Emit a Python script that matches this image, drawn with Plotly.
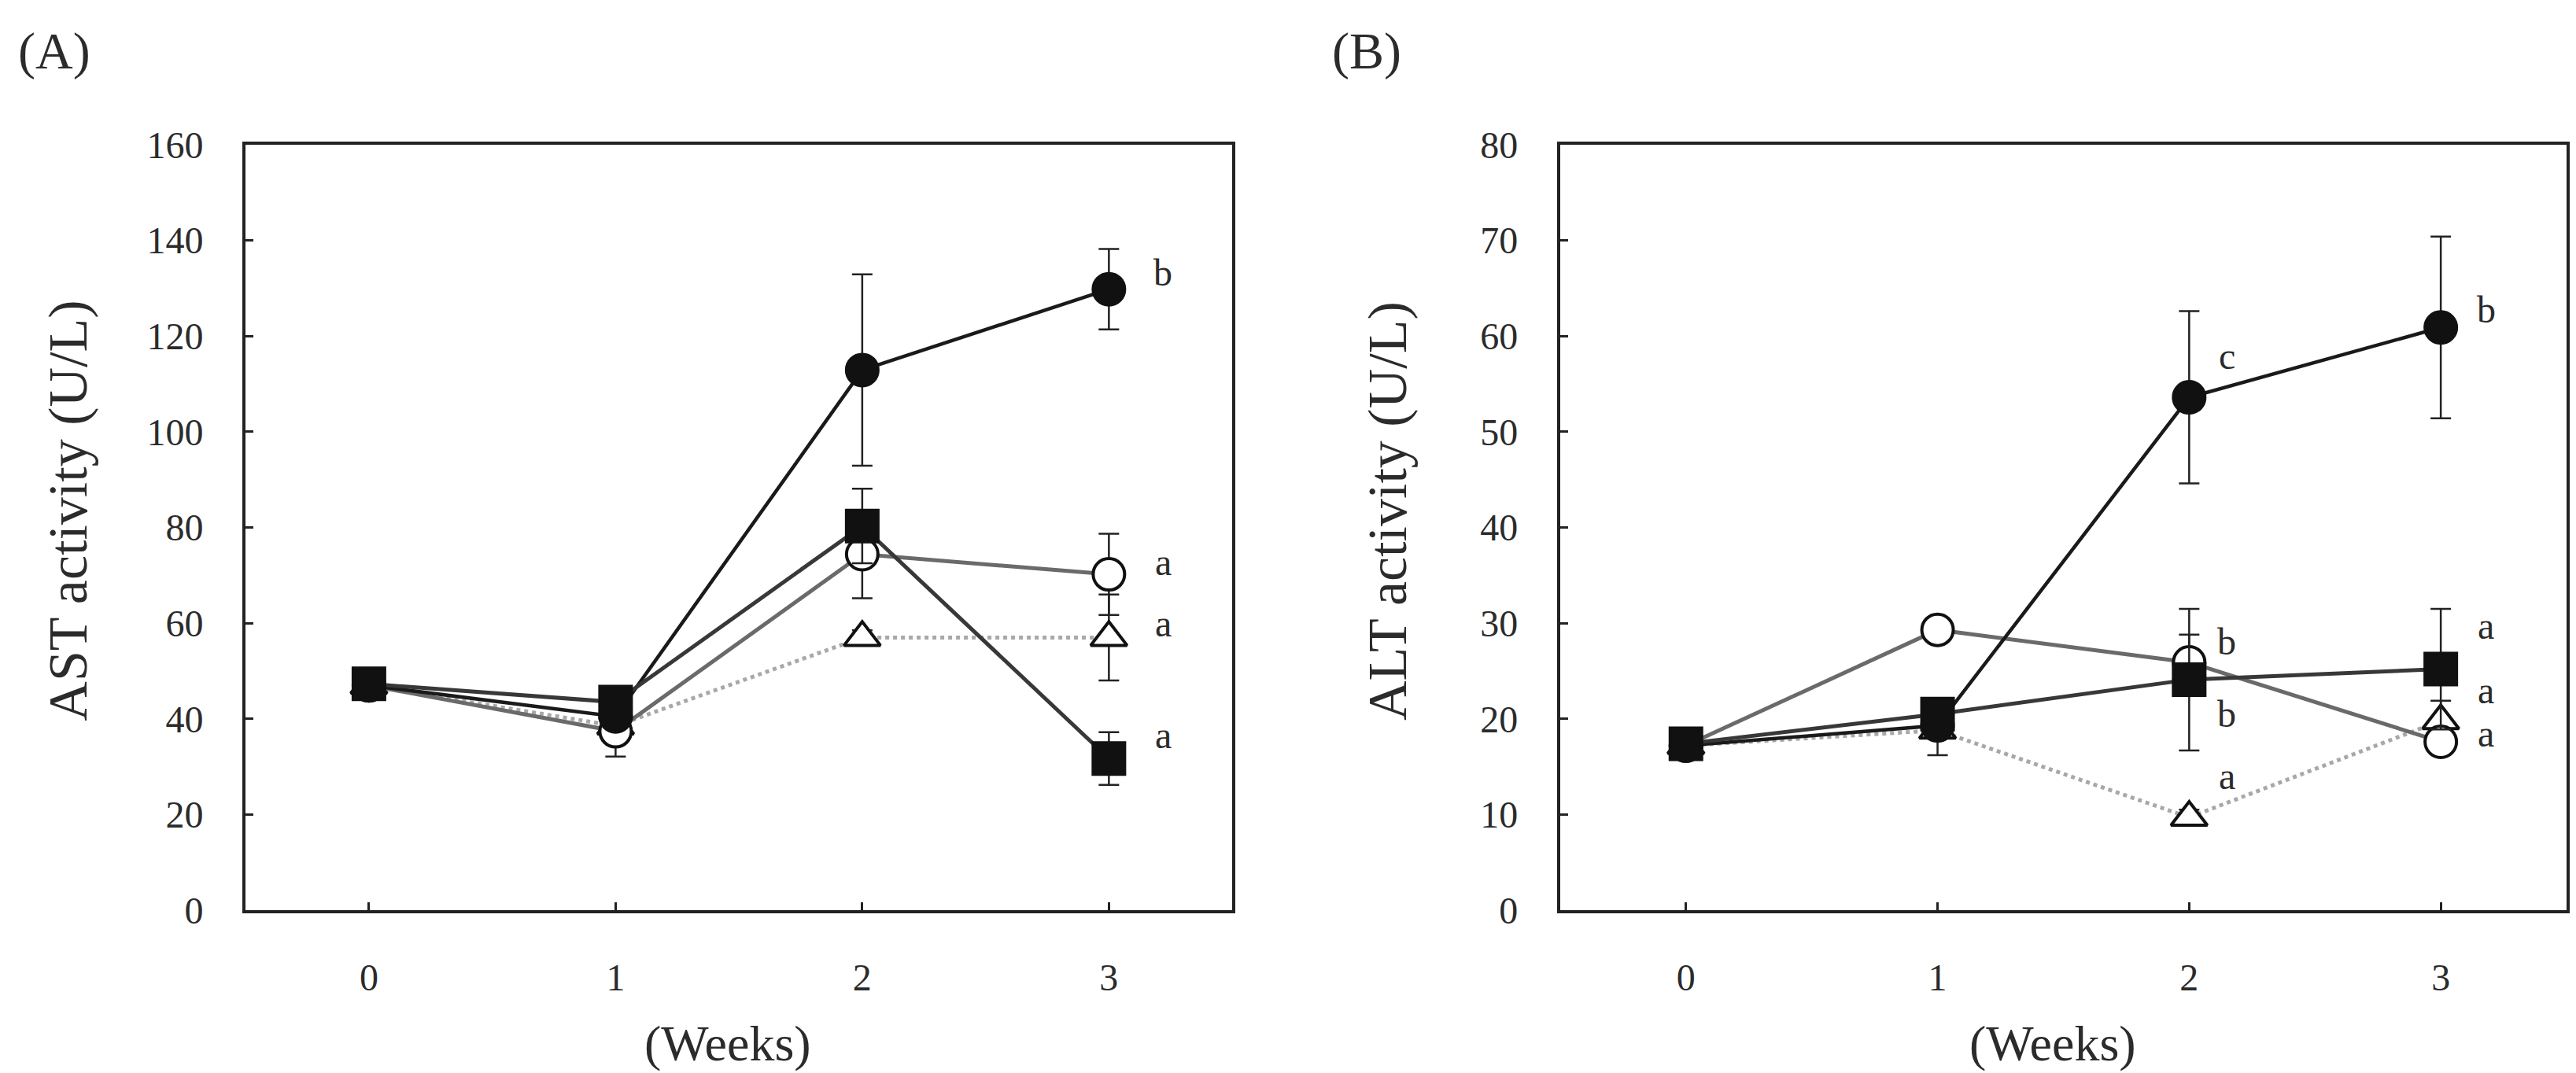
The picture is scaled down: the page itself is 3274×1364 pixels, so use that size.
import plotly.graph_objects as go
from plotly.subplots import make_subplots

weeks = [0, 1, 2, 3]
week_labels = ["0", "1", "2", "3"]

# AST (panel A)
ast_fill_circle = [47, 40.5, 112.9, 129.8]
ast_fill_circle_err = [0, 1.5, 20, 8.4]
ast_square = [47.3, 43.5, 80.3, 31.7]
ast_square_err = [0, 1.5, 7.8, 5.5]
ast_open_circle = [47, 37.4, 74.4, 70.2]
ast_open_circle_err = [0, 5.3, 9.2, 8.5]
ast_triangle = [47, 38.5, 57.0, 57.0]
ast_triangle_err = [0, 2, 1.5, 9]

# ALT (panel B)
alt_fill_circle = [17.2, 19.3, 53.6, 60.9]
alt_fill_circle_err = [0, 1, 9, 9.5]
alt_square = [17.4, 20.5, 24.1, 25.2]
alt_square_err = [0, 1, 7.4, 6.3]
alt_open_circle = [17.2, 29.3, 25.9, 17.6]
alt_open_circle_err = [0, 1, 2.9, 1]
alt_triangle = [17.2, 18.8, 9.7, 19.8]
alt_triangle_err = [0, 2.6, 0.8, 2.1]

# significance letters
ast_letters = ["b", "a", "a", "a"]
ast_letter_x = [3.22, 3.22, 3.22, 3.22]
ast_letter_y = [133.3, 72.7, 59.9, 36.6]
alt_letters = ["c", "b", "b", "b", "a", "a", "a", "a"]
alt_letter_x = [2.15, 3.18, 2.15, 2.15, 2.15, 3.18, 3.18, 3.18]
alt_letter_y = [57.9, 62.8, 28.1, 20.5, 14.0, 29.7, 23.0, 18.5]

FONT = "Liberation Serif"
TXT = "#2b2b2b"

fig = make_subplots(rows=1, cols=2)


def add_series(y, err, col, symbol, mfill, lcolor, dash, lwidth):
    fig.add_trace(go.Scatter(
        x=weeks, y=y, mode="lines+markers",
        line=dict(color=lcolor, width=lwidth, dash=dash),
        marker=dict(symbol=symbol, size=40, color=mfill,
                    line=dict(color="#111111", width=4)),
        error_y=dict(type="data", array=err, visible=True,
                     color="#222222", thickness=2.5, width=13),
        showlegend=False), row=1, col=col)


for col, data in [(1, [(ast_triangle, ast_triangle_err), (ast_open_circle, ast_open_circle_err),
                       (ast_square, ast_square_err), (ast_fill_circle, ast_fill_circle_err)]),
                  (2, [(alt_triangle, alt_triangle_err), (alt_open_circle, alt_open_circle_err),
                       (alt_square, alt_square_err), (alt_fill_circle, alt_fill_circle_err)])]:
    add_series(data[0][0], data[0][1], col, "triangle-up", "white", "#a8a8a8", "dot", 5)
    add_series(data[1][0], data[1][1], col, "circle", "white", "#6a6a6a", "solid", 5)
    add_series(data[3][0], data[3][1], col, "circle", "#111111", "#1a1a1a", "solid", 4.5)
    add_series(data[2][0], data[2][1], col, "square", "#111111", "#383838", "solid", 5)

axis_style = dict(showline=True, mirror=True, linecolor="#222222", linewidth=4,
                  ticks="inside", ticklen=10, tickwidth=3, tickcolor="#222222",
                  showgrid=False, zeroline=False, automargin=False,
                  tickfont=dict(family=FONT, size=48, color=TXT))

fig.update_xaxes(range=[-0.5, 3.5], tickvals=weeks, ticktext=week_labels,
                 ticklabelstandoff=40, **axis_style)
fig.update_yaxes(ticklabelstandoff=40, **axis_style)
fig.update_xaxes(domain=[0.0929, 0.4759], row=1, col=1)
fig.update_xaxes(domain=[0.6032, 0.9939], row=1, col=2)
fig.update_yaxes(domain=[0.1576, 0.871], range=[0, 160], dtick=20, row=1, col=1)
fig.update_yaxes(domain=[0.1576, 0.871], range=[0, 80], dtick=10, row=1, col=2)

annotations = []
for t, x, y in zip(ast_letters, ast_letter_x, ast_letter_y):
    annotations.append(dict(text=t, x=x, y=y, xref="x", yref="y", showarrow=False,
                            font=dict(family=FONT, size=48, color=TXT)))
for t, x, y in zip(alt_letters, alt_letter_x, alt_letter_y):
    annotations.append(dict(text=t, x=x, y=y, xref="x2", yref="y2", showarrow=False,
                            font=dict(family=FONT, size=48, color=TXT)))

# panel labels and axis titles
for text, x in [("(A)", 0.004), ("(B)", 0.514)]:
    annotations.append(dict(text=text, x=x, y=0.958, xref="paper", yref="paper",
                            xanchor="left", yanchor="middle", showarrow=False,
                            font=dict(family=FONT, size=66, color=TXT)))
for text, x in [("AST activity (U/L)", 0.024), ("ALT activity (U/L)", 0.536)]:
    annotations.append(dict(text=text, x=x, y=0.53, xref="paper", yref="paper",
                            textangle=-90, xanchor="center", yanchor="middle", showarrow=False,
                            font=dict(family=FONT, size=70, color=TXT)))
for x in [0.280, 0.7943]:
    annotations.append(dict(text="(Weeks)", x=x, y=0.0337, xref="paper", yref="paper",
                            xanchor="center", yanchor="middle", showarrow=False,
                            font=dict(family=FONT, size=64, color=TXT)))

fig.update_layout(width=3274, height=1364, margin=dict(l=0, r=0, t=0, b=0),
                  paper_bgcolor="white", plot_bgcolor="white",
                  annotations=annotations)

fig.write_html("out.html")
